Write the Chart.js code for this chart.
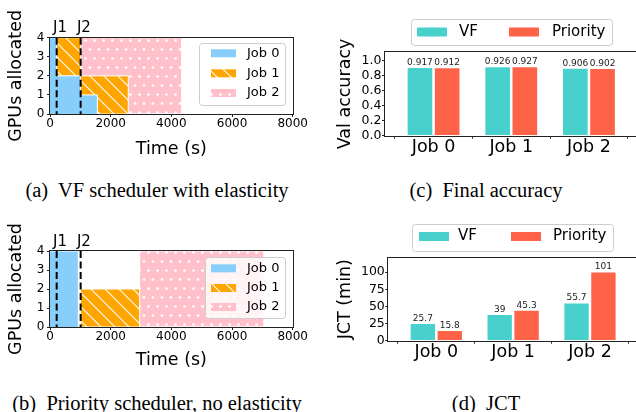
<!DOCTYPE html>
<html>
<head>
<meta charset="utf-8">
<script src="https://cdn.jsdelivr.net/npm/chart.js@4.4.1/dist/chart.umd.min.js"></script>
<style>
  html, body { margin: 0; padding: 0; background: #fff; }
  body { width: 636px; height: 412px; overflow: hidden; position: relative; }
  canvas { position: absolute; }
  .cap { position: absolute; font-family: 'Liberation Serif', 'Times New Roman', serif; font-size: 20.5px;
         line-height: 24px; text-align: center; white-space: pre; color: #000; }
</style>
</head>
<body>
<canvas id="chartA" width="318" height="170" style="left:0;top:0"></canvas>
<canvas id="chartB" width="318" height="170" style="left:0;top:212px"></canvas>
<canvas id="chartC" width="322" height="170" style="left:318px;top:0"></canvas>
<canvas id="chartD" width="322" height="170" style="left:318px;top:212px"></canvas>
<div class="cap" style="left:0;width:314px;top:178px">(a)  VF scheduler with elasticity</div>
<div class="cap" style="left:318px;width:336px;top:178px">(c)  Final accuracy</div>
<div class="cap" style="left:0;width:314px;top:391px">(b)  Priority scheduler, no elasticity</div>
<div class="cap" style="left:318px;width:336px;top:391px">(d)  JCT</div>
<script>
const jobNames = ['Job 0', 'Job 1', 'Job 2'];
const arrivalTimes = [220, 1010];
const arrivalLabels = ['J1', 'J2'];

// GPUs held by each job from each time point until the next one
const elasticTimes = [0, 220, 1010, 1560, 2580, 4340];
const elasticJob0 = [4, 2, 1, 0, 0, 0];
const elasticJob1 = [0, 2, 1, 2, 0, 0];
const elasticJob2 = [0, 0, 2, 2, 4, 0];

const priorityTimes = [0, 933, 1010, 2955, 7050];
const priorityJob0 = [4, 0, 0, 0, 0];
const priorityJob1 = [0, 0, 2, 0, 0];
const priorityJob2 = [0, 0, 0, 4, 0];

const timeTicks = [0, 2000, 4000, 6000, 8000];
const gpuTicks = [0, 1, 2, 3, 4];

const methods = ['VF', 'Priority'];
const accVF = [0.917, 0.926, 0.906];
const accPriority = [0.912, 0.927, 0.902];
const jctVF = [25.7, 39, 55.7];
const jctPriority = [15.8, 45.3, 101];
const accTicks = [0, 0.2, 0.4, 0.6, 0.8, 1.0];
const jctTicks = [0, 25, 50, 75, 100];

Chart.defaults.font.family = "'DejaVu Sans', sans-serif";
Chart.defaults.color = '#000';

function makeFill(kind, color) {
  if (kind === 'solid') return color;
  const s = kind === 'hatch' ? 14 : 18;
  const c = document.createElement('canvas');
  c.width = s; c.height = s;
  const g = c.getContext('2d');
  g.fillStyle = color;
  g.fillRect(0, 0, s, s);
  if (kind === 'hatch') {
    g.strokeStyle = '#fff';
    g.lineWidth = 1.1;
    g.beginPath();
    g.moveTo(-1, -1); g.lineTo(s + 1, s + 1);
    g.moveTo(-1, s - 1); g.lineTo(1, s + 1);
    g.moveTo(s - 1, -1); g.lineTo(s + 1, 1);
    g.stroke();
  } else {
    g.fillStyle = '#fff';
    [[4.5, 4.5], [13.5, 4.5], [0, 13.5], [9, 13.5], [18, 13.5]].forEach(([x, y]) => {
      g.beginPath(); g.arc(x, y, 1.35, 0, Math.PI * 2); g.fill();
    });
  }
  return g.createPattern(c, 'repeat');
}

const jobFills = [
  makeFill('solid', '#87CEFA'),
  makeFill('hatch', '#FFA500'),
  makeFill('dots', '#FFC0CB'),
];
const methodFills = ['#48D1CC', '#FF6347'];

// full box round the plot, like matplotlib spines
const framePlugin = {
  id: 'frame',
  afterDatasetsDraw(chart) {
    const { ctx, chartArea: a } = chart;
    ctx.save();
    ctx.strokeStyle = '#222';
    ctx.lineWidth = 1;
    const l = Math.round(a.left) - 0.5, t = Math.round(a.top) - 0.5;
    ctx.strokeRect(l, t, Math.round(a.right) - l + 0.5, Math.round(a.bottom) - t + 0.5);
    ctx.restore();
  }
};

const arrivalPlugin = {
  id: 'arrivals',
  afterDatasetsDraw(chart, args, o) {
    const { ctx, chartArea: a, scales: { x } } = chart;
    ctx.save();
    ctx.strokeStyle = '#000';
    ctx.lineWidth = 2;
    ctx.setLineDash([7, 3.5]);
    ctx.font = "15px 'DejaVu Sans'";
    ctx.fillStyle = '#000';
    ctx.textBaseline = 'alphabetic';
    arrivalTimes.forEach((t, i) => {
      const px = x.getPixelForValue(t);
      ctx.beginPath();
      ctx.moveTo(px, a.top);
      ctx.lineTo(px, a.bottom);
      ctx.stroke();
      ctx.fillText(arrivalLabels[i], px - 3.7, a.top - o.labelGap);
    });
    ctx.restore();
  }
};

const boxLegend = {
  id: 'boxLegend',
  afterDraw(chart, args, o) {
    const ctx = chart.ctx;
    ctx.save();
    ctx.beginPath();
    ctx.roundRect(o.x + 0.5, o.y + 0.5, o.w, o.h, 3);
    ctx.fillStyle = 'rgba(255,255,255,0.8)';
    ctx.fill();
    ctx.strokeStyle = '#ccc';
    ctx.lineWidth = 1;
    ctx.stroke();
    ctx.font = o.size + "px 'DejaVu Sans'";
    ctx.textBaseline = 'middle';
    chart.data.datasets.forEach((ds, i) => {
      const it = o.items[i];
      ctx.fillStyle = ds.backgroundColor;
      ctx.fillRect(it.px, it.cy - o.ph / 2, o.pw, o.ph);
      ctx.fillStyle = '#000';
      ctx.fillText(ds.label, it.tx, it.cy);
    });
    ctx.restore();
  }
};

const barValues = {
  id: 'barValues',
  afterDatasetsDraw(chart) {
    const ctx = chart.ctx;
    ctx.save();
    ctx.font = "9px 'DejaVu Sans'";
    ctx.fillStyle = '#222';
    ctx.textAlign = 'center';
    ctx.textBaseline = 'bottom';
    chart.data.datasets.forEach((ds, i) => {
      chart.getDatasetMeta(i).data.forEach((bar, j) => {
        ctx.fillText(String(Number(ds.data[j].y.toPrecision(3))), bar.x, bar.y);
      });
    });
    ctx.restore();
  }
};

function tickGrid() {
  return { drawOnChartArea: false, drawTicks: true, tickLength: 3, color: '#222', tickColor: '#222' };
}

function timelineChart(id, times, jobs, box) {
  const datasets = jobs.map((gpus, j) => ({
    label: jobNames[j],
    data: times.map((t, i) => ({ x: t, y: gpus[i] })),
    stepped: 'before',
    fill: j === 0 ? 'origin' : '-1',
    backgroundColor: jobFills[j],
    borderColor: '#fff',
    borderWidth: 1,
    pointRadius: 0,
  }));
  return new Chart(document.getElementById(id), {
    type: 'line',
    data: { datasets },
    options: {
      responsive: false,
      animation: false,
      events: [],
      layout: { padding: { top: box.top, right: box.right, left: 0, bottom: 0 } },
      plugins: {
        legend: { display: false },
        tooltip: { enabled: false },
        arrivals: { labelGap: box.labelGap },
        boxLegend: box.legend,
      },
      scales: {
        x: {
          type: 'linear', min: 0, max: 8000,
          afterBuildTicks: s => { s.ticks = timeTicks.map(v => ({ value: v })); },
          afterFit: s => { s.height = box.xh; },
          grid: tickGrid(),
          border: { display: false },
          ticks: { font: { size: 12 }, padding: 0, maxRotation: 0, autoSkip: false, callback: v => String(v) },
          title: { display: true, text: 'Time (s)', font: { size: 17.5 }, padding: { top: 0, bottom: box.xTitlePad } },
        },
        y: {
          stacked: true, min: 0, max: 4,
          afterBuildTicks: s => { s.ticks = gpuTicks.map(v => ({ value: v })); },
          afterFit: s => { s.width = 50; },
          grid: tickGrid(),
          border: { display: false },
          ticks: { font: { size: 12 }, padding: 2.7, autoSkip: false, callback: v => String(v) },
          title: { display: true, text: 'GPUs allocated', font: { size: 17.5 }, padding: { top: 6, bottom: 0 } },
        },
      },
    },
    plugins: [arrivalPlugin, framePlugin, boxLegend],
  });
}

function barChart(id, vf, pr, yTicks, fmt, yTitle, box) {
  const yMax = Math.max(...vf, ...pr) * 1.2;
  const datasets = [vf, pr].map((vals, m) => ({
    label: methods[m],
    data: vals.map((v, i) => ({ x: i, y: v })),
    backgroundColor: methodFills[m],
    borderColor: '#fff',
    borderWidth: 1,
    categoryPercentage: 0.7,
    barPercentage: 0.98,
  }));
  return new Chart(document.getElementById(id), {
    type: 'bar',
    data: { datasets },
    options: {
      responsive: false,
      animation: false,
      events: [],
      layout: { padding: { top: box.top, right: box.right, left: 0, bottom: 0 } },
      plugins: {
        legend: { display: false },
        tooltip: { enabled: false },
        boxLegend: box.legend,
      },
      scales: {
        x: {
          type: 'linear', min: -0.625, max: 2.625, offset: false,
          afterBuildTicks: s => { s.ticks = jobNames.map((n, i) => ({ value: i })); },
          afterFit: s => { s.height = box.xh; },
          grid: tickGrid(),
          border: { display: false },
          ticks: { font: { size: 17.5 }, padding: box.xTickPad, maxRotation: 0, autoSkip: false, callback: v => jobNames[v] },
        },
        y: {
          min: 0, max: yMax,
          afterBuildTicks: s => { s.ticks = yTicks.map(v => ({ value: v })); },
          afterFit: s => { s.width = box.yw; },
          grid: tickGrid(),
          border: { display: false },
          ticks: { font: { size: 12.5 }, padding: 0.5, autoSkip: false, callback: fmt },
          title: { display: true, text: yTitle, font: { size: 17.5 }, padding: { top: 17.3, bottom: 0 } },
        },
      },
    },
    plugins: [framePlugin, barValues, boxLegend],
  });
}

timelineChart('chartA', elasticTimes, [elasticJob0, elasticJob1, elasticJob2], {
  top: 37.7, right: 25.3, xh: 56, xTitlePad: 10.5, labelGap: 5.7,
  legend: { x: 199, y: 43, w: 86, h: 62, pw: 25, ph: 8, size: 13,
            items: [{ px: 211, cy: 53.3, tx: 247 }, { px: 211, cy: 73.3, tx: 247 }, { px: 211, cy: 93, tx: 247 }] },
});

timelineChart('chartB', priorityTimes, [priorityJob0, priorityJob1, priorityJob2], {
  top: 39, right: 25.3, xh: 55, xTitlePad: 11, labelGap: 5,
  legend: { x: 205, y: 45, w: 80, h: 61, pw: 25, ph: 8, size: 13,
            items: [{ px: 211, cy: 56.3, tx: 247 }, { px: 211, cy: 76, tx: 247 }, { px: 211, cy: 95, tx: 247 }] },
});

barChart('chartC', accVF, accPriority, accTicks, v => v.toFixed(1), 'Val accuracy', {
  top: 52.3, right: 2.5, xh: 34.3, yw: 67, xTickPad: -1.8,
  legend: { x: 93, y: 19, w: 201, h: 26, pw: 30, ph: 9, size: 15,
            items: [{ px: 99, cy: 32, tx: 141 }, { px: 191, cy: 32, tx: 234 }] },
});

barChart('chartD', jctVF, jctPriority, jctTicks, v => String(v), 'JCT (min)', {
  top: 45.7, right: 2, xh: 41.3, yw: 70.3, xTickPad: -1.5,
  legend: { x: 94, y: 12, w: 201, h: 27, pw: 30, ph: 9, size: 15,
            items: [{ px: 101, cy: 24.5, tx: 140 }, { px: 193, cy: 24.5, tx: 235 }] },
});
</script>
</body>
</html>
